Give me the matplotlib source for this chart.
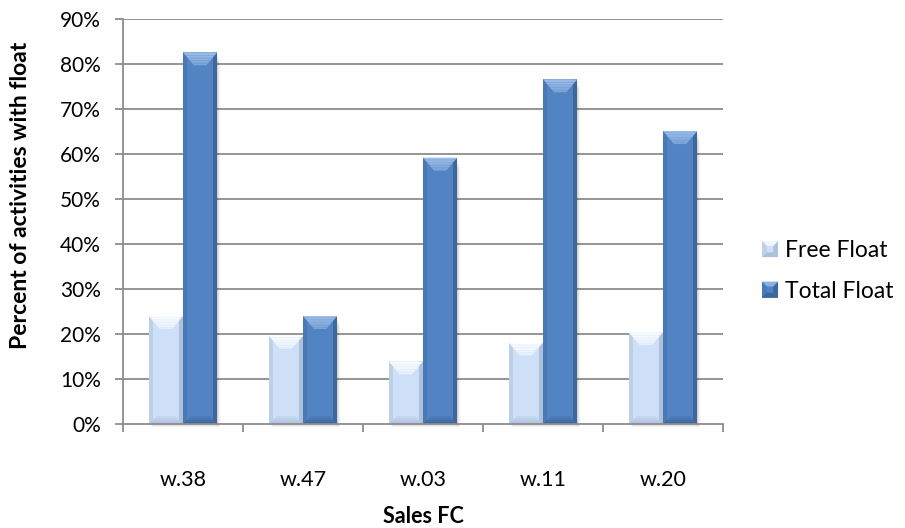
import matplotlib
matplotlib.use("Agg")
import matplotlib.pyplot as plt
from matplotlib.patches import Polygon, Rectangle
from matplotlib.legend_handler import HandlerBase
from matplotlib.colors import to_rgb
import numpy as np

categories = ["w.38", "w.47", "w.03", "w.11", "w.20"]
free_float = [24.0, 19.6, 13.9, 18.1, 20.4]
total_float = [82.6, 24.0, 59.2, 76.6, 65.1]
series_names = ["Free Float", "Total Float"]
y_ticks = [0, 10, 20, 30, 40, 50, 60, 70, 80, 90]

FONT = ["Lato", "DejaVu Sans"]
plt.rcParams["font.family"] = FONT

STYLES = {
    "Free Float": dict(body="#CDE0F8", top="#FFFFFF", side="#BED0E8",
                       right="#AEC1DA", bottom="#ADC1DB"),
    "Total Float": dict(body="#5283C3", top="#A3C4EC", side="#4A79B6",
                        right="#3F679C", bottom="#3C669C"),
}

fig = plt.figure(figsize=(9.05, 5.28), dpi=100)
ax = fig.add_axes([0.1359, 0.197, 0.663, 0.767])

n = len(categories)
x = np.arange(n)
bar_w = 1 / 3.5
ax.set_xlim(-0.5, n - 0.5)
ax.set_ylim(0, 90)

for yt in y_ticks[1:]:
    ax.axhline(yt, color="#8C8C8C", lw=1.3, zorder=1)

fig.canvas.draw()
inv = ax.transData.inverted()
p0 = inv.transform([0, 0])
p1 = inv.transform([1, 1])
ux = abs(p1[0] - p0[0])  # data units per pixel, x
uy = abs(p1[1] - p0[1])  # data units per pixel, y

TOP_DEPTH, TOP_INSET = 13, 11
BOT_DEPTH, BOT_INSET = 8, 8
SIDE_W = 4


def mix(c1, c2, t):
    a, b = np.array(to_rgb(c1)), np.array(to_rgb(c2))
    return tuple(a + (b - a) * t)


def bevel_bar(xc, h, st):
    x0, x1 = xc - bar_w / 2, xc + bar_w / 2
    # soft drop shadow
    for k, al in ((3, 0.05), (2, 0.06), (1, 0.07)):
        ax.add_patch(Rectangle((x0 + k * ux, -k * uy), bar_w, h - 2 * k * uy,
                               color="#000000", alpha=al, lw=0, zorder=2, clip_on=False))
    ax.add_patch(Rectangle((x0, 0), bar_w, h, color=st["body"], lw=0, zorder=3))
    sw = SIDE_W * ux
    ax.add_patch(Rectangle((x0, 0), sw, h, color=st["side"], lw=0, zorder=3.5))
    ax.add_patch(Rectangle((x1 - sw, 0), sw, h, color=st["right"], lw=0, zorder=3.5))

    # top bevel: graded trapezoid with a clear lower edge
    td = min(TOP_DEPTH * uy, h * 0.45)
    ti = TOP_INSET * ux * (td / (TOP_DEPTH * uy))
    bands = 8
    for i in range(bands):
        t0, t1 = i / bands, (i + 1) / bands
        col = mix(st["top"], st["body"], 0.05 + (t0 + t1) / 2 * 0.45)
        ya, yb = h - t0 * td, h - t1 * td
        ia, ib = t0 * ti, t1 * ti
        ax.add_patch(Polygon([(x0 + ia, ya), (x1 - ia, ya), (x1 - ib, yb), (x0 + ib, yb)],
                             closed=True, color=col, lw=0, zorder=4))

    bd = min(BOT_DEPTH * uy, h * 0.3)
    bi = BOT_INSET * ux * (bd / (BOT_DEPTH * uy))
    for i in range(4):
        t0, t1 = i / 4, (i + 1) / 4
        col = mix(st["bottom"], st["body"], (t0 + t1) / 2 * 0.8)
        ya, yb = t0 * bd, t1 * bd
        ia, ib = t0 * bi, t1 * bi
        ax.add_patch(Polygon([(x0 + ia, ya), (x1 - ia, ya), (x1 - ib, yb), (x0 + ib, yb)],
                             closed=True, color=col, lw=0, zorder=4))


bars_free = ax.bar(x - bar_w / 2, free_float, width=bar_w, color="none", lw=0)
bars_total = ax.bar(x + bar_w / 2, total_float, width=bar_w, color="none", lw=0)
for rect in bars_free:
    bevel_bar(rect.get_x() + rect.get_width() / 2, rect.get_height(), STYLES["Free Float"])
for rect in bars_total:
    bevel_bar(rect.get_x() + rect.get_width() / 2, rect.get_height(), STYLES["Total Float"])

for side in ["top", "right"]:
    ax.spines[side].set_visible(False)
for side in ["left", "bottom"]:
    ax.spines[side].set_color("#8C8C8C")
    ax.spines[side].set_linewidth(1.3)
    ax.spines[side].set_zorder(5)

ax.set_yticks(y_ticks)
ax.set_yticklabels([f"{v}%" for v in y_ticks])
ax.tick_params(axis="y", direction="out", length=6, width=1.3, color="#8C8C8C",
               pad=10, labelsize=15, labelcolor="#000000")

ax.set_xticks(x)
ax.set_xticklabels(categories)
ax.set_xticks(np.arange(n + 1) - 0.5, minor=True)
ax.tick_params(axis="x", which="major", length=0, pad=33, labelsize=15.5)
ax.tick_params(axis="x", which="minor", direction="out", length=6, width=1.3,
               color="#8C8C8C")

ax.set_ylabel("Percent of activities with float", fontsize=16.5, fontweight="bold")
ax.yaxis.set_label_coords(-0.153, 0.565)
ax.set_xlabel("Sales FC", fontsize=15.5, fontweight="bold", labelpad=12)


class BevelSquare(HandlerBase):
    def __init__(self, st):
        super().__init__()
        self.st = st

    def create_artists(self, legend, orig_handle, xdescent, ydescent, width, height,
                       fontsize, trans):
        s = height
        x0 = width - s - xdescent
        y0 = (height - s) / 2 - ydescent
        b = s * 0.3
        st = self.st
        arts = [
            Rectangle((x0, y0), s, s, color=st["body"], lw=0),
            Polygon([(x0, y0 + s), (x0 + b, y0 + s - b), (x0 + b, y0 + b), (x0, y0)], color=st["side"], lw=0),
            Polygon([(x0 + s, y0 + s), (x0 + s - b, y0 + s - b), (x0 + s - b, y0 + b), (x0 + s, y0)], color=st["right"], lw=0),
            Polygon([(x0, y0), (x0 + s, y0), (x0 + s - b, y0 + b), (x0 + b, y0 + b)], color=st["bottom"], lw=0),
            Polygon([(x0, y0 + s), (x0 + s, y0 + s), (x0 + s - b, y0 + s - b), (x0 + b, y0 + s - b)], color=mix(st["top"], st["body"], 0.3), lw=0),
        ]
        for a in arts:
            a.set_transform(trans)
        return arts


h_free = Rectangle((0, 0), 1, 1)
h_total = Rectangle((0, 0), 1, 1)
fig.legend([h_free, h_total], series_names,
           handler_map={h_free: BevelSquare(STYLES["Free Float"]),
                        h_total: BevelSquare(STYLES["Total Float"])},
           loc="center left", bbox_to_anchor=(0.842, 0.487), frameon=False,
           fontsize=16.5, handlelength=0.7, handleheight=0.7, handletextpad=0.3,
           labelspacing=0.85, borderpad=0, borderaxespad=0)

fig.savefig("out.png", dpi=100)
